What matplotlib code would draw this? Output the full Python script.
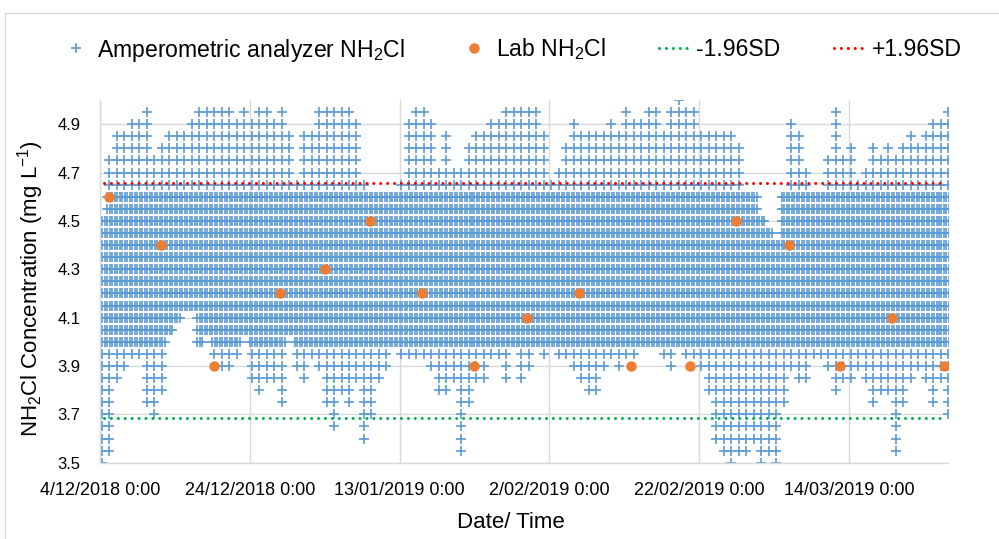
import numpy as np
import pandas as pd
import matplotlib
matplotlib.use("Agg")
import matplotlib.pyplot as plt
import matplotlib.dates as mdates
from matplotlib.lines import Line2D
from matplotlib.patches import Rectangle

plt.rcParams["font.family"] = ["Liberation Sans", "DejaVu Sans"]
plt.rcParams["mathtext.fontset"] = "custom"
plt.rcParams["mathtext.rm"] = "Liberation Sans"
plt.rcParams["mathtext.it"] = "Liberation Sans:italic"
plt.rcParams["mathtext.bf"] = "Liberation Sans:bold"

# analyzer readings: daily low / high envelope (mg/L),
# one entry per day starting 4/12/2018
analyzer_start = "2018-12-04"
analyzer_low = [
    3.50, 3.55, 3.85, 3.90, 3.95, 3.95, 3.75, 3.70, 3.80, 4.05,
    4.10, 4.15, 4.15, 4.00, 4.05, 3.95, 3.90, 3.90, 3.95, 4.05,
    3.85, 3.80, 3.85, 3.85, 3.75, 4.05, 3.90, 3.85, 3.95, 3.90,
    3.75, 3.65, 3.80, 3.75, 3.85, 3.60, 3.70, 3.85, 3.90, 4.00,
    3.95, 3.95, 3.95, 3.95, 3.90, 3.80, 3.80, 3.85, 3.55, 3.75,
    3.85, 3.85, 3.95, 3.95, 3.85, 4.00, 3.85, 3.90, 4.00, 3.95,
    4.00, 3.95, 3.95, 3.90, 3.85, 3.80, 3.80, 3.90, 3.95, 3.90,
    3.95, 3.95, 4.00, 4.00, 4.00, 3.95, 3.90, 4.00, 3.95, 3.95,
    3.90, 3.80, 3.60, 3.55, 3.50, 3.55, 3.55, 3.60, 3.50, 3.55,
    3.50, 3.75, 3.90, 3.85, 3.85, 3.95, 3.95, 3.90, 3.80, 3.85,
    3.85, 3.90, 3.85, 3.75, 3.80, 3.80, 3.55, 3.75, 3.85, 3.90,
    3.85, 3.75, 3.85, 3.70, 3.65,
]
analyzer_high = [
    4.50, 4.75, 4.85, 4.85, 4.90, 4.90, 4.95, 4.75, 4.80, 4.85,
    4.85, 4.85, 4.90, 4.95, 4.95, 4.95, 4.95, 4.95, 4.90, 4.95,
    4.90, 4.95, 4.95, 4.90, 4.95, 4.85, 4.65, 4.85, 4.85, 4.95,
    4.95, 4.95, 4.95, 4.95, 4.90, 4.65, 4.60, 4.60, 4.60, 4.60,
    4.65, 4.90, 4.95, 4.95, 4.90, 4.70, 4.85, 4.70, 4.70, 4.80,
    4.85, 4.85, 4.90, 4.90, 4.95, 4.95, 4.95, 4.95, 4.95, 4.85,
    4.65, 4.70, 4.80, 4.90, 4.85, 4.85, 4.85, 4.85, 4.90, 4.85,
    4.95, 4.90, 4.90, 4.95, 4.95, 4.85, 4.95, 5.00, 4.95, 4.95,
    4.85, 4.85, 4.85, 4.85, 4.85, 4.80, 4.60, 4.60, 4.50, 4.45,
    4.40, 4.60, 4.90, 4.85, 4.70, 4.60, 4.60, 4.75, 4.95, 4.75,
    4.80, 4.65, 4.70, 4.80, 4.75, 4.80, 4.75, 4.80, 4.85, 4.80,
    4.85, 4.90, 4.90, 4.95, 4.95,
]
reading_step = 0.05        # analyzer resolution
dense_band = (4.0, 4.6)    # where the readings crowd together
dense_hours = [0, 8, 16]   # reading times inside the band
sparse_hours = [6]         # reading times outside the band

# weekly lab grab samples
lab_dates = [
    "2018-12-05 05:00", "2018-12-12 05:00", "2018-12-19 05:00", "2018-12-28 02:00",
    "2019-01-03 02:00", "2019-01-09 02:00", "2019-01-16 00:00", "2019-01-23 00:00",
    "2019-01-30 00:00", "2019-02-06 00:00", "2019-02-12 22:00", "2019-02-20 19:00",
    "2019-02-26 22:00", "2019-03-05 22:00", "2019-03-12 19:00", "2019-03-19 19:00",
    "2019-03-26 17:00",
]
lab_values = [4.6, 4.4, 3.9, 4.2, 4.3, 4.5, 4.2, 3.9, 4.1, 4.2, 3.9, 3.9, 4.5, 4.4, 3.9, 4.1, 3.9]

sd_dates = ["2018-12-04 14:00", "2019-03-26 17:00"]
sd_low = 3.685
sd_high = 4.655

tick_dates = ["2018-12-04", "2018-12-24", "2019-01-13", "2019-02-02", "2019-02-22", "2019-03-14"]
tick_labels = ["4/12/2018 0:00", "24/12/2018 0:00", "13/01/2019 0:00",
               "2/02/2019 0:00", "22/02/2019 0:00", "14/03/2019 0:00"]
x_min = "2018-12-04"
x_max = "2019-03-27 05:00"

# expand envelopes into individual readings
days = pd.date_range(analyzer_start, periods=len(analyzer_low), freq="D")
t_list, v_list = [], []
for d, lo, hi in zip(days, analyzer_low, analyzer_high):
    levels = np.round(np.arange(lo, hi + 1e-6, reading_step), 2)
    for lv in levels:
        inside = dense_band[0] <= lv <= dense_band[1]
        for h in (dense_hours if inside else sparse_hours):
            t_list.append(d + pd.Timedelta(hours=h))
            v_list.append(lv)
an_t = mdates.date2num(pd.to_datetime(t_list))
an_v = np.array(v_list)

blue = "#5B9BD5"
orange = "#ED7D31"
green = "#00B050"
red = "#FF0000"
grid_c = "#D9D9D9"
dot_style = (0, (0.01, 2.25))

fig = plt.figure(figsize=(9.99, 5.39), dpi=100)
fig.patches.append(Rectangle((5 / 999, -0.05), 1.2, 1 - 13 / 539 + 0.05,
                             transform=fig.transFigure, fill=False,
                             edgecolor=grid_c, lw=1.0))
ax = fig.add_axes([0.100, 0.1415, 0.849, 0.673])

ax.plot(an_t, an_v, linestyle="none", marker="+", ms=6.5, mew=1.2,
        color=blue, zorder=2)
ax.plot(mdates.date2num(pd.to_datetime(lab_dates)), lab_values, linestyle="none",
        marker="o", ms=6.5, color=orange, zorder=4)
sd_x = mdates.date2num(pd.to_datetime(sd_dates))
ax.plot(sd_x, [sd_low, sd_low], color=green, lw=2.2, linestyle=dot_style,
        dash_capstyle="round", zorder=3)
ax.plot(sd_x, [sd_high, sd_high], color=red, lw=2.2, linestyle=dot_style,
        dash_capstyle="round", zorder=3)

ax.set_ylim(3.5, 5.0)
ax.set_yticks(np.arange(3.5, 4.95, 0.2))
ax.set_yticklabels([f"{v:.1f}" for v in np.arange(3.5, 4.95, 0.2)])
ax.set_xlim(mdates.date2num(pd.Timestamp(x_min)), mdates.date2num(pd.Timestamp(x_max)))
ax.set_xticks(mdates.date2num(pd.to_datetime(tick_dates)))
ax.set_xticklabels(tick_labels)

ax.grid(True, color=grid_c, lw=1.0, zorder=0)
ax.set_axisbelow(True)
for s in ["top", "right"]:
    ax.spines[s].set_visible(False)
for s in ["left", "bottom"]:
    ax.spines[s].set_color(grid_c)
    ax.spines[s].set_linewidth(1.0)
ax.tick_params(axis="x", length=0, pad=14, labelsize=13, colors="black")
ax.tick_params(axis="y", length=0, pad=14, labelsize=12, colors="black")

ax.set_xlabel("Date/ Time", fontsize=16)
ax.xaxis.set_label_coords(0.484, -0.135)
ax.set_ylabel(r"NH$_2$Cl Concentration (mg L$^{-1}$)", fontsize=16)
ax.yaxis.set_label_coords(-0.064, 0.48)

handles = [
    Line2D([], [], linestyle="none", marker="+", ms=6.5, mew=1.2, color=blue),
    Line2D([], [], linestyle="none", marker="o", ms=6.5, color=orange),
    Line2D([], [], color=green, lw=2.2, linestyle=dot_style, dash_capstyle="round"),
    Line2D([], [], color=red, lw=2.2, linestyle=dot_style, dash_capstyle="round"),
]
labels = [r"Amperometric analyzer NH$_2$Cl", r"Lab NH$_2$Cl", "-1.96SD", "+1.96SD"]
fig.legend(handles, labels, loc="center left", bbox_to_anchor=(59 / 999, 1 - 50 / 539),
           ncol=4, frameon=False, fontsize=16.6, handlelength=1.44, handletextpad=0.2,
           columnspacing=2.3, borderpad=0, borderaxespad=0)

fig.savefig("out.png", dpi=100)
